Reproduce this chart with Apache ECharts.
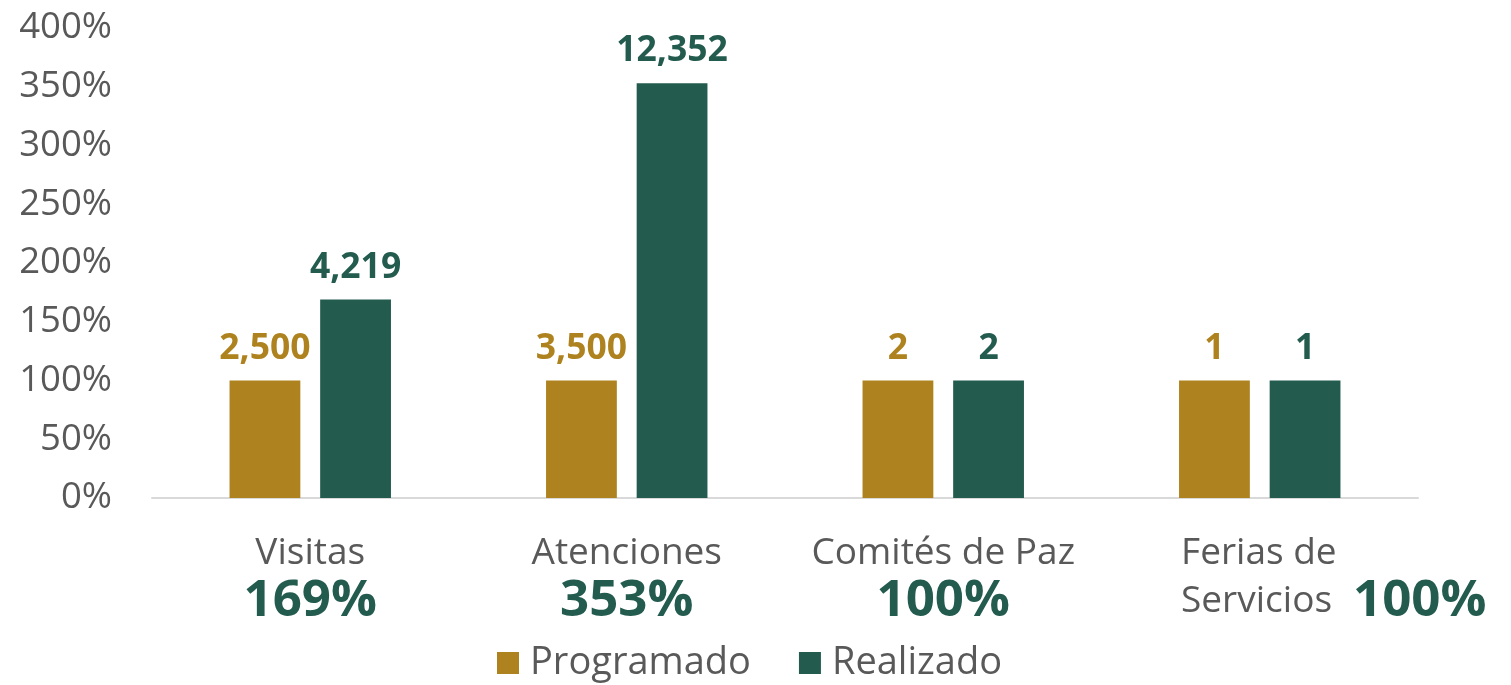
<!DOCTYPE html>
<html>
<head>
<meta charset="utf-8">
<script src="https://cdn.jsdelivr.net/npm/echarts@6/dist/echarts.min.js"></script>
<style>
  html, body { margin: 0; padding: 0; background: #fff; }
  #chart { width: 1511px; height: 685px; }
</style>
</head>
<body>
<div id="chart"></div>
<script>
// categorias y valores
const categorias = ['Visitas', 'Atenciones', 'Comités de Paz', 'Ferias de Servicios'];
const avance = ['169%', '353%', '100%', '100%'];
const programadoPct = [100, 100, 100, 100];
const realizadoPct = [169, 353, 100, 100];
const programadoNum = [2500, 3500, 2, 1];
const realizadoNum = [4219, 12352, 2, 1];
const yTicks = [0, 50, 100, 150, 200, 250, 300, 350, 400];

const ORO = '#AE831F';
const VERDE = '#235B4E';
const GRIS = '#595959';
const FONT = '"Open Sans", "Noto Sans", sans-serif';

const fmt = v => v.toLocaleString('en-US');

const chart = echarts.init(document.getElementById('chart'));

const option = {
  textStyle: { fontFamily: FONT },
  animation: false,
  grid: { left: 152, right: 93, top: 28, bottom: 187 },
  legend: {
    top: 639,
    left: 492,
    icon: 'rect',
    itemWidth: 22,
    itemHeight: 22,
    itemGap: 48,
    textStyle: { fontSize: 38, color: GRIS, fontFamily: FONT, padding: [0, 0, 0, 6] },
    data: ['Programado', 'Realizado']
  },
  xAxis: {
    type: 'category',
    data: categorias,
    axisLine: { lineStyle: { color: '#D9D9D9', width: 2 } },
    axisTick: { show: false },
    axisLabel: {
      interval: 0,
      margin: 31,
      formatter: (val, idx) => {
        if (val === 'Ferias de Servicios') {
          return '{sp| }{nl|Ferias de}\n{sp| }{nl|Servicios}{g| }{pl|' + avance[idx] + '}';
        }
        return '{n|' + val + '}\n{p|' + avance[idx] + '}';
      },
      rich: {
        n: { fontSize: 37, color: GRIS, lineHeight: 48, fontFamily: FONT },
        p: { fontSize: 51, color: VERDE, fontWeight: 'bold', lineHeight: 48, fontFamily: FONT },
        sp: { width: 148, align: 'left', lineHeight: 48 },
        g: { width: 21, align: 'left', lineHeight: 48 },
        nl: { fontSize: 37, color: GRIS, lineHeight: 48, align: 'left', fontFamily: FONT },
        pl: { fontSize: 51, color: VERDE, fontWeight: 'bold', lineHeight: 48, align: 'left', fontFamily: FONT }
      }
    }
  },
  yAxis: {
    type: 'value',
    min: yTicks[0],
    max: yTicks[yTicks.length - 1],
    interval: 50,
    splitLine: { show: false },
    axisLine: { show: false },
    axisTick: { show: false },
    axisLabel: {
      margin: 40,
      fontSize: 36.5,
      color: GRIS,
      fontFamily: FONT,
      formatter: v => v + '%'
    }
  },
  series: [
    {
      name: 'Programado',
      type: 'bar',
      data: programadoPct,
      barGap: '28%',
      barCategoryGap: '49%',
      itemStyle: { color: ORO },
      label: {
        show: true,
        position: 'top',
        distance: 14,
        fontSize: 35.5,
        fontWeight: 'bold',
        color: ORO,
        fontFamily: FONT,
        formatter: p => fmt(programadoNum[p.dataIndex])
      }
    },
    {
      name: 'Realizado',
      type: 'bar',
      data: realizadoPct,
      itemStyle: { color: VERDE },
      label: {
        show: true,
        position: 'top',
        distance: 14,
        fontSize: 35.5,
        fontWeight: 'bold',
        color: VERDE,
        fontFamily: FONT,
        formatter: p => fmt(realizadoNum[p.dataIndex])
      }
    }
  ]
};

chart.setOption(option);
</script>
</body>
</html>
